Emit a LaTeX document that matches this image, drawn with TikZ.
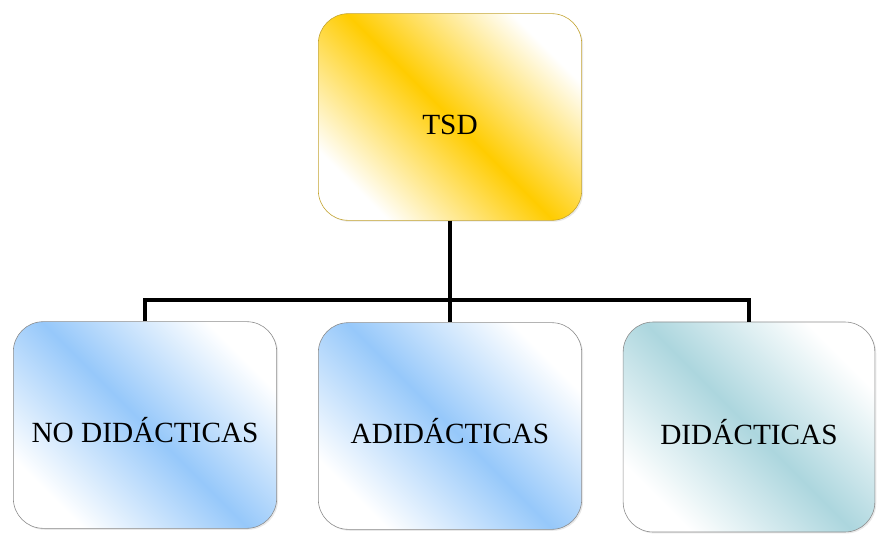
\documentclass[tikz,border=0pt]{standalone}
\usepackage{fontspec}
\newfontfamily\cardfont{Liberation Serif}
\usetikzlibrary{shadows}
\definecolor{tsdgold}{RGB}{255,204,0}
\definecolor{tsdedge}{RGB}{196,164,48}
\definecolor{skyblue}{RGB}{150,200,250}
\definecolor{paleteal}{RGB}{172,214,222}
\definecolor{boxedge}{RGB}{140,140,140}
\tikzset{
  card/.style={rounded corners=0.9cm, draw=boxedge, line width=0.5pt,
    minimum width=7.9cm, minimum height=6.2cm, inner sep=0pt,
    text height=30pt, text depth=0pt,
    font=\cardfont\fontsize{25}{30}\selectfont,
    drop shadow={opacity=0.18, shadow xshift=1.2pt, shadow yshift=-1.2pt}},
  goldcard/.style={card, draw=tsdedge, top color=white, bottom color=white,
    middle color=tsdgold, shading angle=-45},
  bluecard/.style={card, top color=white, bottom color=white,
    middle color=skyblue, shading angle=-45},
  tealcard/.style={card, top color=white, bottom color=white,
    middle color=paleteal, shading angle=-45,
    minimum width=7.55cm, minimum height=6.3cm},
  link/.style={line width=3pt, black}
}
\begin{document}
\begin{tikzpicture}[x=0.03cm,y=-0.03cm]
  \useasboundingbox (0,0) rectangle (877,535);
  % root
  \node[goldcard] (tsd) at (450,117) {TSD};
  % children
  \node[bluecard] (nodid) at (145,425) {NO DIDÁCTICAS};
  \node[bluecard] (adid) at (450,426) {ADIDÁCTICAS};
  \node[tealcard] (did) at (749,427) {DIDÁCTICAS};
  \coordinate (split) at (450,300);
  % connectors
  \draw[link] (tsd.south) -- (split);
  \draw[link] (nodid.north) |- (split) -| (did.north);
  \draw[link] (split) -- (adid.north);
\end{tikzpicture}
\end{document}
